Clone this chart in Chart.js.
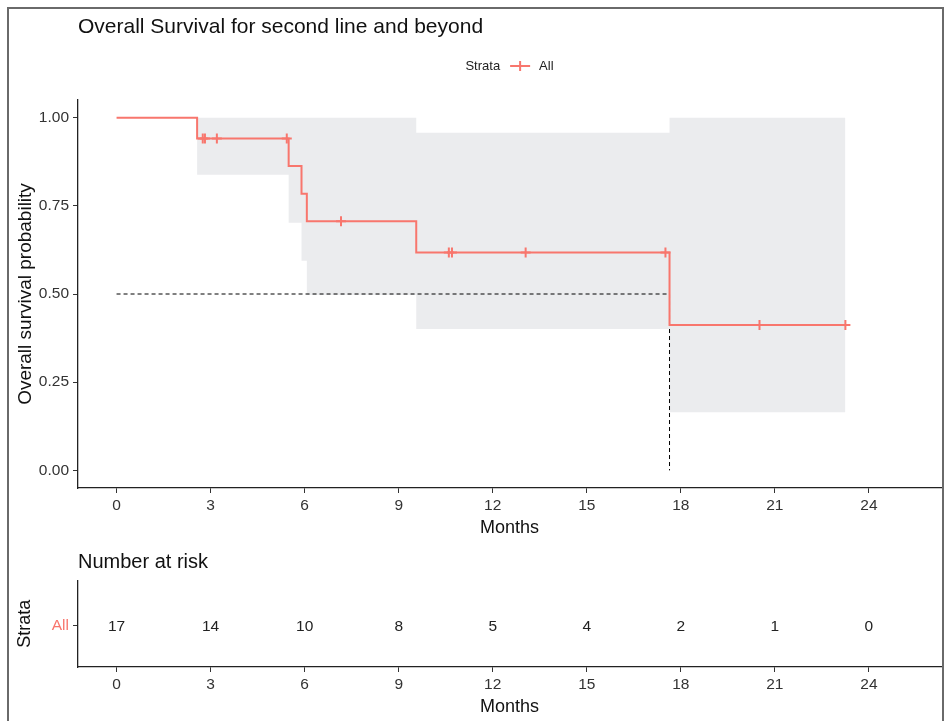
<!DOCTYPE html>
<html>
<head>
<meta charset="utf-8">
<script src="https://cdn.jsdelivr.net/npm/chart.js@4"></script>
<style>
  html, body { margin: 0; padding: 0; background: #fff; }
  #page { position: relative; width: 950px; height: 721px; overflow: hidden; background: #fff; }
  #frame { position: absolute; left: 7px; top: 7px; width: 937px; height: 740px;
           border: 2px solid #6a6a6a; box-sizing: border-box; }
  canvas { position: absolute; left: 0; }
  #km { top: 0; }
  #risk { top: 540px; }
</style>
</head>
<body>
<div id="page">
  <div id="frame"></div>
  <canvas id="km" width="950" height="540"></canvas>
  <canvas id="risk" width="950" height="181"></canvas>
</div>
<script>
// ---- data ----
const strataName = 'All';
const monthTicks = [0, 3, 6, 9, 12, 15, 18, 21, 24];
const survTicks = [0, 0.25, 0.5, 0.75, 1];
const survTickLabels = ['0.00', '0.25', '0.50', '0.75', '1.00'];

// Kaplan-Meier step curve (time in months, survival probability)
const kmTime = [0, 2.57, 5.49, 5.90, 6.07, 9.56, 17.64, 23.25];
const kmSurv = [1.000, 0.941, 0.863, 0.784, 0.706, 0.618, 0.412, 0.412];

// 95% confidence band
const ciTime  = [0, 2.57, 5.49, 5.90, 6.07, 9.56, 17.64, 23.25];
const ciUpper = [1.000, 1.000, 1.000, 1.000, 1.000, 0.957, 1.000, 1.000];
const ciLower = [1.000, 0.838, 0.702, 0.594, 0.497, 0.401, 0.165, 0.165];

// censored observations
const censorTime = [2.75, 2.82, 3.20, 5.43, 7.16, 10.60, 10.70, 13.05, 17.51, 20.51, 23.25];
const censorSurv = [0.941, 0.941, 0.941, 0.941, 0.706, 0.618, 0.618, 0.618, 0.618, 0.412, 0.412];

// median survival
const medianTime = 17.64;
const medianSurv = 0.5;

// number at risk
const riskTime  = [0, 3, 6, 9, 12, 15, 18, 21, 24];
const riskCount = [17, 14, 10, 8, 5, 4, 2, 1, 0];

// ---- styling ----
const FONT = '"Liberation Sans", Arial, Helvetica, sans-serif';
const SALMON = '#F8766D';
const BAND = '#EBECEE';
const TICK_COLOR = '#333333';
const TEXT_COLOR = '#111111';
const X_MIN = -1.23, X_MAX = 26.30;
const RISK_ROW = 0.48;

Chart.defaults.font.family = FONT;
Chart.defaults.animation = false;

const pts = (xs, ys) => xs.map((x, i) => ({ x, y: ys[i] }));

function xScale(fitHeight, titleBottom) {
  return {
    type: 'linear',
    min: X_MIN,
    max: X_MAX,
    afterBuildTicks: s => { s.ticks = monthTicks.map(v => ({ value: v })); },
    afterFit: s => { s.height = fitHeight; },
    ticks: { font: { size: 15.5 }, color: TICK_COLOR, padding: 3, maxRotation: 0, autoSkip: false },
    grid: { drawOnChartArea: false, drawTicks: true, tickLength: 5, color: '#333' },
    border: { display: true, color: '#222', width: 1.3 },
    title: { display: true, text: 'Months', font: { size: 18 }, color: TEXT_COLOR,
             padding: { top: 2, bottom: titleBottom } }
  };
}

// legend: "Strata  -+-  All", centred over the plot area
const strataKey = {
  id: 'strataKey',
  afterDraw(chart) {
    const ctx = chart.ctx;
    const area = chart.chartArea;
    ctx.save();
    ctx.font = '13px ' + FONT;
    ctx.textBaseline = 'middle';
    const wTitle = ctx.measureText('Strata').width;
    const wName = ctx.measureText(strataName).width;
    const gap1 = 10, keyW = 20, gap2 = 9;
    const total = wTitle + gap1 + keyW + gap2 + wName;
    let x = (area.left + area.right) / 2 - total / 2;
    const y = 66;
    ctx.fillStyle = '#222';
    ctx.fillText('Strata', x, y);
    x += wTitle + gap1;
    ctx.strokeStyle = SALMON;
    ctx.lineWidth = 2;
    ctx.beginPath();
    ctx.moveTo(x, y); ctx.lineTo(x + keyW, y);
    ctx.moveTo(x + keyW / 2, y - 5); ctx.lineTo(x + keyW / 2, y + 5);
    ctx.stroke();
    x += keyW + gap2;
    ctx.fillStyle = '#222';
    ctx.fillText(strataName, x, y);
    ctx.restore();
  }
};

new Chart(document.getElementById('km'), {
  type: 'line',
  data: {
    datasets: [
      { label: strataName, data: pts(kmTime, kmSurv), stepped: 'before',
        borderColor: SALMON, borderWidth: 2, pointRadius: 0, fill: false },
      { label: 'censor', type: 'scatter', data: pts(censorTime, censorSurv), showLine: false,
        pointStyle: 'cross', pointRadius: 5, borderColor: SALMON, borderWidth: 2, backgroundColor: SALMON },
      { label: 'median', data: [{ x: 0, y: medianSurv }, { x: medianTime, y: medianSurv }, { x: medianTime, y: 0 }],
        borderColor: '#000', borderWidth: 1, borderDash: [4, 3], pointRadius: 0, fill: false },
      { label: 'upper', data: pts(ciTime, ciUpper), stepped: 'before',
        borderWidth: 0, borderColor: 'rgba(0,0,0,0)', pointRadius: 0, fill: false },
      { label: 'lower', data: pts(ciTime, ciLower), stepped: 'before',
        borderWidth: 0, borderColor: 'rgba(0,0,0,0)', pointRadius: 0, fill: '-1', backgroundColor: BAND }
    ]
  },
  options: {
    responsive: false,
    events: [],
    layout: { padding: { left: 10, right: 9, top: 0, bottom: 0 } },
    plugins: {
      legend: { display: false },
      tooltip: { enabled: false },
      title: {
        display: true, text: 'Overall Survival for second line and beyond', align: 'start',
        fullSize: false, color: TEXT_COLOR, font: { size: 21, weight: 'normal' },
        padding: { top: 14.4, bottom: 60.4 }
      }
    },
    scales: {
      x: xScale(52, 1),
      y: {
        type: 'linear', min: -0.05, max: 1.05,
        afterBuildTicks: s => { s.ticks = survTicks.map(v => ({ value: v })); },
        afterFit: s => { s.width = 68; },
        ticks: { font: { size: 15.5 }, color: TICK_COLOR, padding: 4, callback: (v, i) => survTickLabels[i] },
        grid: { drawOnChartArea: false, drawTicks: true, tickLength: 5, color: '#333' },
        border: { display: true, color: '#222', width: 1.3 },
        title: { display: true, text: 'Overall survival probability', font: { size: 19 }, color: TEXT_COLOR,
                 padding: { top: 4, bottom: 4 } }
      }
    }
  },
  plugins: [strataKey]
});

// numbers at risk written at each time point
const riskLabels = {
  id: 'riskLabels',
  afterDatasetsDraw(chart) {
    const ctx = chart.ctx;
    const meta = chart.getDatasetMeta(0);
    ctx.save();
    ctx.font = '15.5px ' + FONT;
    ctx.fillStyle = '#222';
    ctx.textAlign = 'center';
    ctx.textBaseline = 'middle';
    meta.data.forEach((el, i) => ctx.fillText(String(riskCount[i]), el.x, el.y + 1));
    ctx.restore();
  }
};

new Chart(document.getElementById('risk'), {
  type: 'scatter',
  data: {
    datasets: [
      { label: strataName, data: riskTime.map(t => ({ x: t, y: RISK_ROW })), pointRadius: 0, showLine: false }
    ]
  },
  options: {
    responsive: false,
    events: [],
    layout: { padding: { left: 10, right: 9, top: 0, bottom: 0 } },
    plugins: {
      legend: { display: false },
      tooltip: { enabled: false },
      title: {
        display: true, text: 'Number at risk', align: 'start', fullSize: false,
        color: TEXT_COLOR, font: { size: 20, weight: 'normal' }, padding: { top: 10, bottom: 6.7 }
      }
    },
    scales: {
      x: xScale(54, 3),
      y: {
        type: 'linear', min: 0, max: 1,
        afterBuildTicks: s => { s.ticks = [{ value: RISK_ROW }]; },
        afterFit: s => { s.width = 68; },
        ticks: { font: { size: 15.5 }, color: SALMON, padding: 4, callback: () => strataName },
        grid: { drawOnChartArea: false, drawTicks: true, tickLength: 5, color: '#333' },
        border: { display: true, color: '#222', width: 1.3 },
        title: { display: true, text: 'Strata', font: { size: 18 }, color: TEXT_COLOR, padding: { top: 4, bottom: 4 } }
      }
    }
  },
  plugins: [riskLabels]
});
</script>
</body>
</html>
